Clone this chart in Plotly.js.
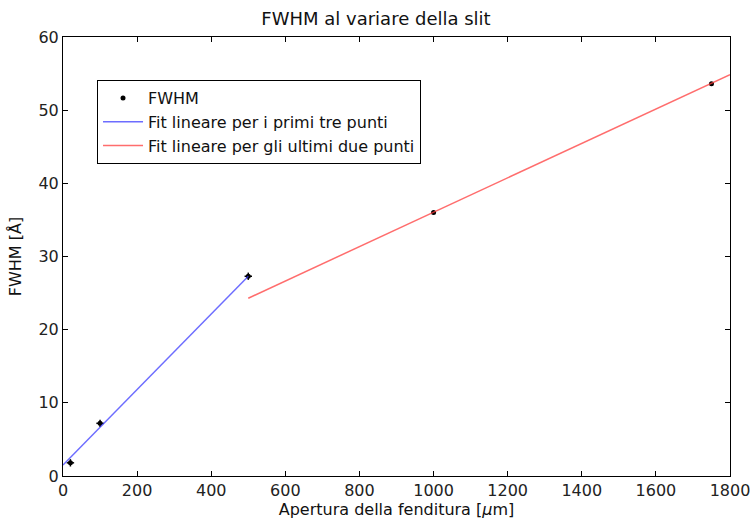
<!DOCTYPE html>
<html>
<head>
<meta charset="utf-8">
<script src="https://cdn.plot.ly/plotly-3.0.1.min.js"></script>
<style>html,body{margin:0;padding:0;background:#fff}#chart{width:752px;height:523px}</style>
</head>
<body>
<div id="chart"></div>
<script>
// Data
const slitWidth = [20, 100, 500, 1000, 1750];
const fwhm = [1.8, 7.2, 27.3, 36.0, 53.6];
const errX = [10, 10, 10, 0, 0];
const errY = [0.5, 0.5, 0.5, 0, 0];

const fit1X = [0, 500];
const fit1Y = [1.5, 27.3];
const fit2X = [500, 1800];
const fit2Y = [24.3, 54.85];

const xTicks = [0, 200, 400, 600, 800, 1000, 1200, 1400, 1600, 1800];
const yTicks = [0, 10, 20, 30, 40, 50, 60];

const fam = 'DejaVu Sans, sans-serif';
const tickFont = {family: fam, size: 16, color: '#222'};

const traces = [
  {x: slitWidth, y: fwhm, mode: 'markers', name: 'FWHM', type: 'scatter',
   marker: {color: '#000', size: 5},
   error_x: {type: 'data', array: errX, color: '#000', thickness: 1.5, width: 0},
   error_y: {type: 'data', array: errY, color: '#000', thickness: 1.5, width: 0}},
  {x: fit1X, y: fit1Y, mode: 'lines', name: 'Fit lineare per i primi tre punti', type: 'scatter',
   line: {color: 'rgba(60,60,255,0.75)', width: 1.5}},
  {x: fit2X, y: fit2Y, mode: 'lines', name: 'Fit lineare per gli ultimi due punti', type: 'scatter',
   line: {color: 'rgba(255,60,60,0.75)', width: 1.5}}
];

const axisCommon = {showgrid: false, zeroline: false, showline: true, linecolor: '#000', linewidth: 1,
  mirror: 'ticks', ticks: 'inside', ticklen: 5, tickcolor: '#000', tickfont: tickFont};

const layout = {
  width: 752, height: 523,
  margin: {l: 63, r: 22, t: 37, b: 47},
  paper_bgcolor: '#fff', plot_bgcolor: '#fff',
  font: tickFont,
  title: {text: 'FWHM al variare della slit', font: {family: fam, size: 18, color: '#111'}, x: 0.5, xanchor: 'center', y: 0.965, yanchor: 'middle'},
  xaxis: Object.assign({}, axisCommon, {range: [0, 1800], tickvals: xTicks,
    title: {text: 'Apertura della fenditura [<i>μ</i>m]', font: {family: fam, size: 16, color: '#111'}, standoff: 4}}),
  yaxis: Object.assign({}, axisCommon, {range: [0, 60], tickvals: yTicks,
    title: {text: 'FWHM [Å]', font: {family: fam, size: 16, color: '#111'}, standoff: 12}}),
  showlegend: true,
  legend: {x: 0.051, y: 0.902, xanchor: 'left', yanchor: 'top', bordercolor: '#000', borderwidth: 1,
    bgcolor: '#fff', font: {family: fam, size: 16, color: '#111'}, tracegroupgap: 0, itemwidth: 40}
};

Plotly.newPlot('chart', traces, layout, {displayModeBar: false, staticPlot: true});
</script>
</body>
</html>
